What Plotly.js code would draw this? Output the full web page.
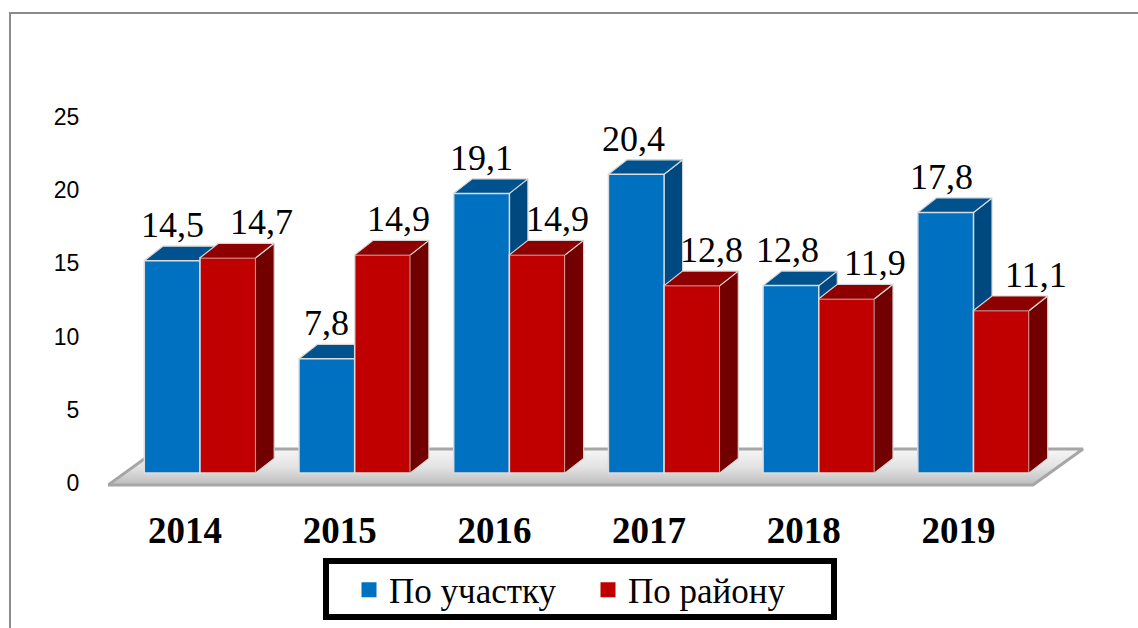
<!DOCTYPE html>
<html>
<head>
<meta charset="utf-8">
<script src="https://cdn.plot.ly/plotly-3.0.1.min.js"></script>
<style>
  html, body { margin: 0; padding: 0; background: #ffffff; overflow: hidden; }
  #chart { width: 1138px; height: 628px; }
</style>
</head>
<body>
<div id="chart"></div>
<script>
// ---------------- data ----------------
const years = ['2014', '2015', '2016', '2017', '2018', '2019'];
const byPlot = [14.5, 7.8, 19.1, 20.4, 12.8, 17.8];       // По участку
const byDistrict = [14.7, 14.9, 14.9, 12.8, 11.9, 11.1];  // По району
const seriesNames = ['По участку', 'По району'];
const yTickValues = [0, 5, 10, 15, 20, 25];

// ---------------- geometry / style ----------------
const W = 1138, H = 628;
const PX_L = 108, PX_R = 1090, PX_T = 115, PX_B = 487;   // plot area in px
const CAT0_PX = 200, CAT_PX = 154.7;                      // category centre / spacing
const ZERO_PX = 473, UNIT_PX = 14.64;                     // front-face baseline / px per unit
const LABEL_ZERO_PX = 483;                                // value-axis label baseline
const BAR_W = 0.36;                                       // bar width (category units)
const DEPTH_X_PX = 18.5, DEPTH_Y_PX = 14.5;               // 3D depth offset
const labelShiftBlue = [0, 0, 0, -3, -3, -4];
const labelShiftRed = [34, 16, 20, 20, 28, 35];

const SERIF = 'Liberation Serif';
const SANS = 'Liberation Sans';

const colors = {
  blue: { front: '#0070C0', top: '#00528F', side: '#004880' },
  red:  { front: '#C00000', top: '#8E0000', side: '#730000' }
};

const xRange = [(PX_L - CAT0_PX) / CAT_PX, (PX_R - CAT0_PX) / CAT_PX];
const yRange = [-(PX_B - ZERO_PX) / UNIT_PX, (ZERO_PX - PX_T) / UNIT_PX];
const y2Range = [-(PX_B - LABEL_ZERO_PX) / UNIT_PX, (LABEL_ZERO_PX - PX_T) / UNIT_PX];
const ddx = DEPTH_X_PX / CAT_PX, ddy = DEPTH_Y_PX / UNIT_PX;

const pxToX = px => (px - CAT0_PX) / CAT_PX;
const pxToY = py => (ZERO_PX - py) / UNIT_PX;
const paperX = px => (px - PX_L) / (PX_R - PX_L);
const paperY = py => (PX_B - py) / (PX_B - PX_T);

const idx = years.map((_, i) => i);
const fmt = v => v.toFixed(1).replace('.', ',');

function facePolys(values, leftOff) {
  const side = { x: [], y: [] }, top = { x: [], y: [] };
  values.forEach((v, i) => {
    const xl = i + leftOff, xr = xl + BAR_W;
    side.x.push(xr, xr + ddx, xr + ddx, xr, null);
    side.y.push(0, ddy, v + ddy, v, null);
    top.x.push(xl, xl + ddx, xr + ddx, xr, null);
    top.y.push(v, v + ddy, v + ddy, v, null);
  });
  return { side, top };
}

function faceTrace(poly, color, z) {
  return {
    type: 'scatter', mode: 'lines', x: poly.x, y: poly.y,
    fill: 'toself', fillcolor: color,
    line: { color: '#D6D6D6', width: 1.2 },
    hoverinfo: 'skip', showlegend: false, zorder: z
  };
}

// floor
const floorX = [pxToX(PX_L), pxToX(1033), pxToX(1083), pxToX(PX_L + 50), pxToX(PX_L)];
const floorY = [pxToY(485), pxToY(485), pxToY(449), pxToY(449), pxToY(485)];

const blueFaces = facePolys(byPlot, -BAR_W);
const redFaces = facePolys(byDistrict, 0);

const traces = [
  {
    type: 'scatter', mode: 'lines', x: floorX, y: floorY,
    fill: 'toself',
    fillgradient: { type: 'vertical', colorscale: [[0, '#BDBDBD'], [0.5, '#E3E3E3'], [1, '#F6F6F6']] },
    line: { color: '#A6A6A6', width: 3 },
    hoverinfo: 'skip', showlegend: false, zorder: 0
  },
  faceTrace(blueFaces.side, colors.blue.side, 1),
  faceTrace(blueFaces.top, colors.blue.top, 1),
  {
    type: 'bar', name: seriesNames[0], x: idx, y: byPlot,
    width: BAR_W, offset: -BAR_W,
    marker: { color: colors.blue.front, line: { color: '#DCDCDC', width: 1.5 } },
    showlegend: false, zorder: 2, hovertemplate: '%{y}<extra></extra>'
  },
  {
    type: 'bar', name: seriesNames[1], x: idx, y: byDistrict,
    width: BAR_W, offset: 0,
    marker: { color: colors.red.front, line: { color: '#DCDCDC', width: 1.5 } },
    showlegend: false, zorder: 3, hovertemplate: '%{y}<extra></extra>'
  },
  faceTrace(redFaces.side, colors.red.side, 4),
  faceTrace(redFaces.top, colors.red.top, 4),
  // legend entries
  {
    type: 'scatter', mode: 'markers', x: [null], y: [null], yaxis: 'y2',
    name: seriesNames[0], marker: { symbol: 'square', size: 15, color: colors.blue.front }
  },
  {
    type: 'scatter', mode: 'markers', x: [null], y: [null], yaxis: 'y2',
    name: seriesNames[1], marker: { symbol: 'square', size: 15, color: colors.red.front }
  }
];

// value labels
const labelFont = { family: SERIF, size: 36, color: '#000000' };
const annotations = [];
byPlot.forEach((v, i) => annotations.push({
  x: i - BAR_W / 2, y: v + ddy, xref: 'x', yref: 'y', text: fmt(v), showarrow: false,
  yshift: 21, xshift: labelShiftBlue[i], yanchor: 'middle', font: labelFont
}));
byDistrict.forEach((v, i) => annotations.push({
  x: i + BAR_W / 2, y: v + ddy, xref: 'x', yref: 'y', text: fmt(v), showarrow: false,
  yshift: 21, xshift: labelShiftRed[i], yanchor: 'middle', font: labelFont
}));

const shapes = [
  // outer chart frame
  { type: 'rect', xref: 'paper', yref: 'paper', layer: 'below',
    x0: paperX(10), x1: paperX(1170), y0: paperY(13), y1: paperY(680),
    line: { color: '#8C8C8C', width: 2 }, fillcolor: 'rgba(0,0,0,0)' },
  // legend box
  { type: 'rect', xref: 'paper', yref: 'paper', layer: 'above',
    x0: paperX(326), x1: paperX(834), y0: paperY(561), y1: paperY(617),
    line: { color: '#000000', width: 6 }, fillcolor: 'rgba(0,0,0,0)' }
];

const layout = {
  width: W, height: H,
  font: { family: SERIF, color: '#000000' },
  margin: { l: PX_L, r: W - PX_R, t: PX_T, b: H - PX_B, pad: 0 },
  paper_bgcolor: '#ffffff', plot_bgcolor: 'rgba(0,0,0,0)',
  barmode: 'overlay',
  showlegend: true,
  xaxis: {
    range: xRange, showgrid: false, zeroline: false, showline: false,
    tickmode: 'array', tickvals: idx, ticktext: years, ticks: '',
    ticklabelstandoff: 18, ticklabelshift: -15,
    tickfont: { family: SERIF, size: 37, color: '#000000', weight: 'bold' },
    fixedrange: true
  },
  yaxis: { range: yRange, visible: false, fixedrange: true },
  yaxis2: {
    range: y2Range, overlaying: 'y', side: 'left', anchor: 'x',
    showgrid: false, zeroline: false, showline: true, linecolor: '#A6A6A6', linewidth: 2,
    tickmode: 'array', tickvals: yTickValues, ticks: '', ticklabelstandoff: 22,
    tickfont: { family: SANS, size: 23, color: '#000000' },
    fixedrange: true
  },
  legend: {
    orientation: 'h', xref: 'container', yref: 'container',
    x: 349 / W, xanchor: 'left', y: 1 - 590 / H, yanchor: 'middle',
    font: { family: SERIF, size: 35, color: '#000000' },
    bgcolor: 'rgba(0,0,0,0)', borderwidth: 0,
    entrywidth: 194, entrywidthmode: 'pixels', itemclick: false, itemdoubleclick: false
  },
  annotations: annotations,
  shapes: shapes
};

Plotly.newPlot('chart', traces, layout, { displayModeBar: false, staticPlot: true });
</script>
</body>
</html>
